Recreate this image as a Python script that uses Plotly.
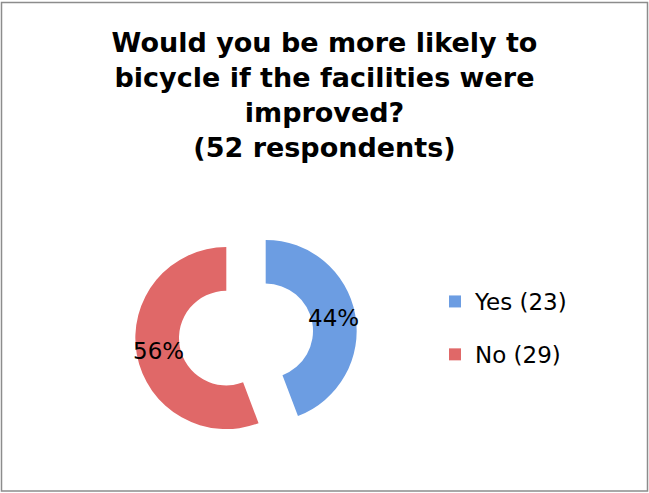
import math
import plotly.graph_objects as go

# ---- data ----
labels = ["Yes (23)", "No (29)"]
values = [23, 29]
colors = ["#6C9DE2", "#E06868"]
title_lines = ["Would you be more likely to", "bicycle if the facilities were",
               "improved?", "(52 respondents)"]

W, H = 649, 493
FONT = "DejaVu Sans"
HOLE = 0.52
PULL = 0.22
DOM_X = [135 / W, 357 / W]
DOM_Y = [1 - 445.5 / H, 1 - 223.5 / H]

fig = go.Figure()

fig.add_trace(go.Pie(
    labels=labels, values=values, sort=False, direction="clockwise", rotation=0,
    hole=HOLE, pull=[PULL] * len(values),
    marker=dict(colors=colors, line=dict(width=0)),
    textinfo="none",
    domain=dict(x=DOM_X, y=DOM_Y),
    showlegend=False, hoverinfo="label+percent",
))

# percentage labels placed at the middle of each ring segment (derived from the data)
total = sum(values)
cx_px = (DOM_X[0] + DOM_X[1]) / 2 * W
cy_px = (1 - (DOM_Y[0] + DOM_Y[1]) / 2) * H
R = min((DOM_X[1] - DOM_X[0]) * W, (DOM_Y[1] - DOM_Y[0]) * H) / (2 + 2 * PULL)
rad = PULL * R + R * (1 + HOLE) / 2
cum = 0
annotations = []
for v in values:
    mid = (cum + v / 2) / total * 2 * math.pi  # clockwise from 12 o'clock
    cum += v
    px = cx_px + rad * math.sin(mid)
    py = cy_px - rad * math.cos(mid)
    annotations.append(dict(
        x=px / W, y=1 - py / H, xref="paper", yref="paper",
        text=f"{round(100 * v / total)}%", showarrow=False,
        font=dict(family=FONT, size=23, color="black"),
        xanchor="center", yanchor="middle"))

# legend proxies
for lab, col in zip(labels, colors):
    fig.add_trace(go.Scatter(
        x=[None], y=[None], mode="markers", name=lab, legendgroup=lab,
        marker=dict(symbol="square", size=12, color=col),
    ))

fig.update_layout(
    width=W, height=H,
    margin=dict(l=0, r=0, t=0, b=0),
    paper_bgcolor="white", plot_bgcolor="white",
    xaxis=dict(visible=False), yaxis=dict(visible=False),
    title=dict(text="<b>" + "<br>".join(title_lines) + "</b>",
               x=0.5, xanchor="center", y=1 - 52 / H, yanchor="top",
               font=dict(family=FONT, size=27, color="black")),
    legend=dict(x=435 / W, y=1 - 280 / H, xanchor="left", yanchor="top",
                traceorder="grouped", tracegroupgap=20,
                font=dict(family=FONT, size=23, color="black"),
                bgcolor="rgba(0,0,0,0)"),
    annotations=annotations,
    shapes=[dict(type="rect", xref="paper", yref="paper",
                 x0=1.5 / W, x1=647.5 / W, y0=1 - 491 / H, y1=1 - 2.5 / H,
                 line=dict(color="#8c8c8c", width=1.5))],
)

fig.write_html("out.html", config={"displayModeBar": False},
               post_script="document.body.style.margin='0';")
